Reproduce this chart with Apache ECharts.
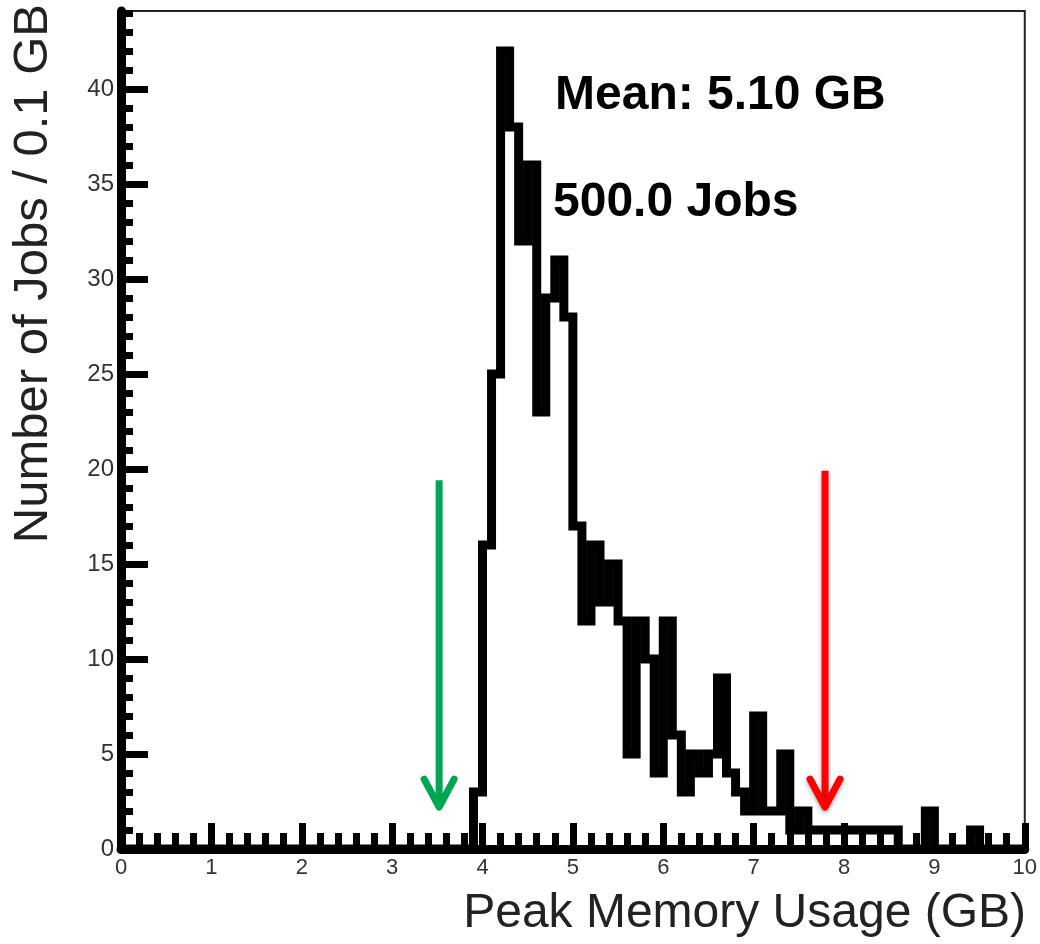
<!DOCTYPE html>
<html><head><meta charset="utf-8">
<script src="https://cdn.jsdelivr.net/npm/echarts@6/dist/echarts.min.js"></script>
<style>html,body{margin:0;padding:0;background:#fff;}#c{width:1040px;height:944px;}</style>
</head><body><div id="c"></div>
<script>
// ---- data ----
const BIN_WIDTH = 0.1;           // GB per bin
const X_MIN = 0, X_MAX = 10;
const COUNTS = [
  0,0,0,0,0,0,0,0,0,0,          // 0.0 - 0.9
  0,0,0,0,0,0,0,0,0,0,          // 1.0 - 1.9
  0,0,0,0,0,0,0,0,0,0,          // 2.0 - 2.9
  0,0,0,0,0,0,0,0,0,3,          // 3.0 - 3.9
  16,25,42,38,32,36,23,29,31,28,// 4.0 - 4.9
  17,12,16,13,15,12,5,12,10,4,  // 5.0 - 5.9
  12,6,3,5,4,5,9,4,3,2,         // 6.0 - 6.9
  7,2,2,5,1,2,1,1,1,1,          // 7.0 - 7.9
  1,1,1,1,1,1,0,0,0,2,          // 8.0 - 8.9
  0,0,0,0,1,0,0,0,0,0           // 9.0 - 9.9
];
const X_TICKS = [0,1,2,3,4,5,6,7,8,9,10];
const Y_MAJOR_TICKS = [0,5,10,15,20,25,30,35,40];
const Y_MINOR_TICKS = [0,1,2,3,4,5,6,7,8,9,10,11,12,13,14,15,16,17,18,19,20,21,22,23,24,25,26,27,28,29,30,31,32,33,34,35,36,37,38,39,40,41,42,43,44];
const Y_MAX = 44.1;
const MEAN_TEXT = "Mean: 5.10 GB";
const JOBS_TEXT = "500.0 Jobs";
const X_TITLE = "Peak Memory Usage (GB)";
const Y_TITLE = "Number of Jobs / 0.1 GB";
// arrows: [x (GB), start count, tip count]
const GREEN_ARROW = [3.52, 19.4, 2.2];
const RED_ARROW = [7.79, 19.9, 2.2];

// ---- build ----
const stepData = COUNTS.map((c, k) => [+(X_MIN + k * BIN_WIDTH).toFixed(1), c]);
stepData.push([X_MAX, 0]);

const FONT = '"Liberation Sans", Arial, Helvetica, sans-serif';

function arrowSeries(arr, color, shadow) {
  return {
    type: 'custom',
    data: [arr],
    z: 10,
    clip: false,
    renderItem: function (params, api) {
      const p0 = api.coord([api.value(0), api.value(1)]);
      const p1 = api.coord([api.value(0), api.value(2)]);
      const st = {stroke: color, lineWidth: 7, fill: null, lineCap: 'round', lineJoin: 'round'};
      if (shadow) { st.shadowBlur = 4; st.shadowColor = 'rgba(0,0,0,0.35)'; st.shadowOffsetY = 2; }
      return {
        type: 'group',
        children: [
          {type: 'line', shape: {x1: p0[0], y1: p0[1], x2: p1[0], y2: p1[1] - 4}, style: Object.assign({}, st, {lineCap: 'butt'})},
          {type: 'polyline', shape: {points: [[p1[0] - 15, p1[1] - 28], [p1[0], p1[1]], [p1[0] + 15, p1[1] - 28]]}, style: st}
        ]
      };
    }
  };
}

const chart = echarts.init(document.getElementById('c'), null, {renderer: 'canvas'});
chart.setOption({
  animation: false,
  backgroundColor: '#fff',
  grid: {left: 121, right: 14, top: 11, bottom: 95, show: true, borderColor: '#222', borderWidth: 2, backgroundColor: 'transparent'},
  xAxis: {
    type: 'value', min: X_MIN, max: X_MAX, interval: 1,
    axisLine: {show: true, lineStyle: {color: '#000', width: 9}},
    axisTick: {show: true, inside: true, length: 26, lineStyle: {color: '#000', width: 7}},
    minorTick: {show: true, splitNumber: 5, length: 16, lineStyle: {color: '#000', width: 7}},
    axisLabel: {show: true, margin: 8, fontSize: 22, color: '#333', fontFamily: FONT,
      customValues: X_TICKS},
    splitLine: {show: false}, minorSplitLine: {show: false}
  },
  yAxis: [{
    type: 'value', min: 0, max: Y_MAX, interval: 5,
    axisLine: {show: true, lineStyle: {color: '#000', width: 9}},
    axisTick: {show: true, inside: true, length: 27, lineStyle: {color: '#000', width: 7}, customValues: Y_MAJOR_TICKS},
    axisLabel: {show: true, margin: 7, fontSize: 24, color: '#333', fontFamily: FONT, customValues: Y_MAJOR_TICKS},
    splitLine: {show: false}
  }, {
    type: 'value', min: 0, max: Y_MAX, interval: 1, position: 'left',
    axisLine: {show: false},
    axisTick: {show: true, inside: true, length: 12, lineStyle: {color: '#000', width: 7}, customValues: Y_MINOR_TICKS},
    axisLabel: {show: false},
    splitLine: {show: false}
  }],
  series: [
    {
      type: 'line', step: 'end', data: stepData, showSymbol: false, symbol: 'none',
      lineStyle: {color: '#000', width: 9, join: 'miter', cap: 'butt'},
      z: 3
    },
    arrowSeries(GREEN_ARROW, '#00a651', false),
    arrowSeries(RED_ARROW, '#ff0000', true)
  ],
  graphic: [
    {type: 'text', x: 555, y: 96, style: {text: MEAN_TEXT, font: 'bold 48px ' + FONT, fill: '#000', align: 'left', verticalAlign: 'middle'}},
    {type: 'text', x: 553, y: 203, style: {text: JOBS_TEXT, font: 'bold 48px ' + FONT, fill: '#000', align: 'left', verticalAlign: 'middle'}},
    {type: 'text', x: 1026, y: 914, style: {text: X_TITLE, font: '48px ' + FONT, fill: '#222', align: 'right', verticalAlign: 'middle'}},
    {type: 'text', x: 33, y: 4, rotation: Math.PI / 2, style: {text: Y_TITLE, font: '49px ' + FONT, fill: '#222', align: 'right', verticalAlign: 'middle'}}
  ]
});
</script></body></html>
